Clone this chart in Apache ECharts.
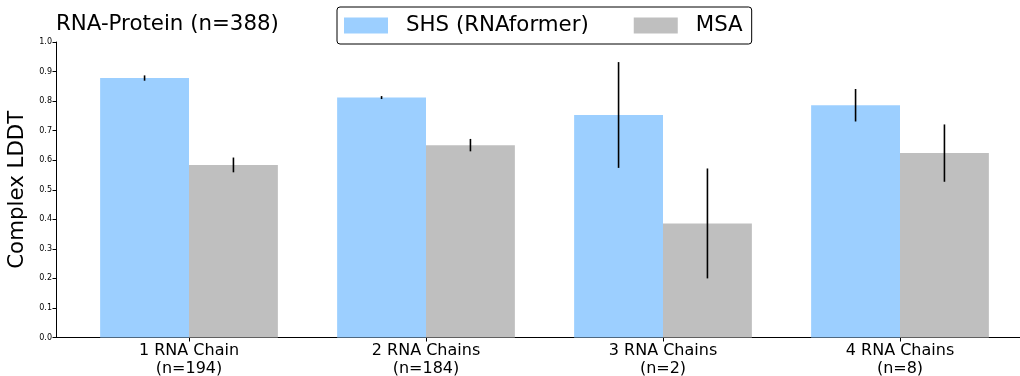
<!DOCTYPE html>
<html>
<head>
<meta charset="utf-8">
<script src="https://cdn.jsdelivr.net/npm/echarts@6/dist/echarts.min.js"></script>
<style>
  html, body { margin: 0; padding: 0; background: #fff; }
  #chart { width: 1020px; height: 376px; }
</style>
</head>
<body>
<div id="chart"></div>
<script>
// Complex LDDT per number of RNA chains, RNA-Protein set
const categories = ['1 RNA Chain\n(n=194)', '2 RNA Chains\n(n=184)', '3 RNA Chains\n(n=2)', '4 RNA Chains\n(n=8)'];
const seriesNames = ['SHS (RNAformer)', 'MSA'];
const shsMean = [0.878, 0.812, 0.753, 0.786];
const shsErr  = [0.009, 0.005, 0.179, 0.055];
const msaMean = [0.584, 0.651, 0.386, 0.624];
const msaErr  = [0.025, 0.021, 0.186, 0.097];
const yTicks = [0, 0.1, 0.2, 0.3, 0.4, 0.5, 0.6, 0.7, 0.8, 0.9, 1.0];

const colors = ['#9ccfff', '#bfbfbf'];
const FONT = 'DejaVu Sans';

const chart = echarts.init(document.getElementById('chart'), null, { renderer: 'canvas' });

// error bars: offset each whisker to the middle of its bar within the category band
function errorBarItem(seriesIdx, means, errs) {
  return function (params, api) {
    const i = api.value(0);
    const band = api.size([1, 0])[0];
    const shift = (seriesIdx === 0 ? -0.1875 : 0.1875) * band;
    const top = api.coord([i, means[i] + errs[i]]);
    const bot = api.coord([i, means[i] - errs[i]]);
    return {
      type: 'line',
      shape: { x1: top[0] + shift, y1: top[1], x2: bot[0] + shift, y2: bot[1] },
      style: { stroke: '#000', lineWidth: 1.6 }
    };
  };
}

const option = {
  animation: false,
  backgroundColor: '#fff',
  title: {
    text: 'RNA-Protein (n=388)',
    left: 51, top: 9,
    textStyle: { fontFamily: FONT, fontSize: 21.33, fontWeight: 'normal', color: '#000' }
  },
  legend: {
    data: seriesNames,
    left: 337, top: 7,
    itemWidth: 44, itemHeight: 16,
    itemGap: 45,
    padding: [8, 9, 8, 7],
    borderColor: '#000', borderWidth: 1, borderRadius: 3,
    icon: 'rect',
    textStyle: { fontFamily: FONT, fontSize: 21.33, color: '#000', padding: [0, 0, 0, 13] }
  },
  grid: [
    // frame grid: spines and y axis
    { left: 56, top: 42, right: 0, height: 295.5, containLabel: false, outerBoundsMode: 'none' },
    // bar grid: four equal category bands centred on the ticks
    { left: 70.5, top: 42, width: 948, height: 295.5, containLabel: false, outerBoundsMode: 'none' }
  ],
  xAxis: [
    {
      gridIndex: 0, type: 'value', min: 0, max: 1,
      axisLine: { show: true, lineStyle: { color: '#000', width: 1 } },
      axisTick: { show: false }, axisLabel: { show: false }, splitLine: { show: false }
    },
    {
      gridIndex: 1, type: 'category', data: categories,
      boundaryGap: true,
      axisLine: { show: false },
      axisTick: { show: true, alignWithLabel: true, length: 4, lineStyle: { color: '#000' } },
      axisLabel: { fontFamily: FONT, fontSize: 16, color: '#000', lineHeight: 17.5, margin: 5, interval: 0 },
      splitLine: { show: false }
    }
  ],
  yAxis: [
    {
      gridIndex: 0, type: 'value', min: 0, max: 1, interval: 0.1,
      name: 'Complex LDDT', nameLocation: 'middle', nameGap: 27,
      nameTextStyle: { fontFamily: FONT, fontSize: 21.33, color: '#000' },
      axisLine: { show: true, lineStyle: { color: '#000', width: 1 } },
      axisTick: { show: true, length: 3.5, lineStyle: { color: '#000' } },
      axisLabel: {
        fontFamily: FONT, fontSize: 8, color: '#000', margin: 4,
        formatter: v => yTicks.find(t => Math.abs(t - v) < 1e-9).toFixed(1)
      },
      splitLine: { show: false }
    },
    {
      gridIndex: 1, type: 'value', min: 0, max: 1, show: false
    }
  ],
  series: [
    {
      name: seriesNames[0], type: 'bar', xAxisIndex: 1, yAxisIndex: 1,
      data: shsMean, itemStyle: { color: colors[0] },
      barGap: '0%', barCategoryGap: '25%', z: 2
    },
    {
      name: seriesNames[1], type: 'bar', xAxisIndex: 1, yAxisIndex: 1,
      data: msaMean, itemStyle: { color: colors[1] },
      barGap: '0%', barCategoryGap: '25%', z: 2
    },
    {
      type: 'custom', xAxisIndex: 1, yAxisIndex: 1, z: 5,
      renderItem: errorBarItem(0, shsMean, shsErr),
      data: shsMean.map((v, i) => [i, v])
    },
    {
      type: 'custom', xAxisIndex: 1, yAxisIndex: 1, z: 5,
      renderItem: errorBarItem(1, msaMean, msaErr),
      data: msaMean.map((v, i) => [i, v])
    }
  ]
};

chart.setOption(option);
</script>
</body>
</html>
